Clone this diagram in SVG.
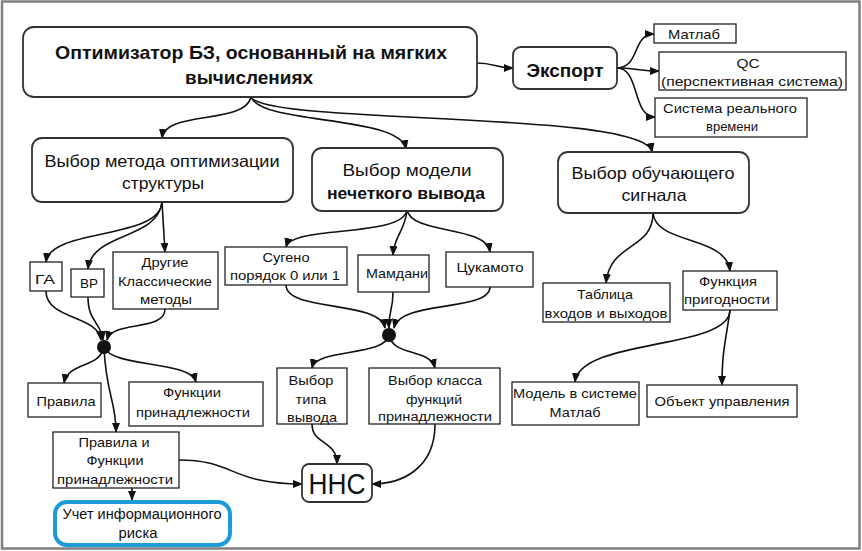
<svg xmlns="http://www.w3.org/2000/svg" width="862" height="551" viewBox="0 0 862 551">
<style>
text{font-family:"Liberation Sans",Arial,sans-serif;fill:#111;text-anchor:middle}
.t1{font-size:19px;font-weight:bold}
.t2{font-size:16.5px}
.t2b{font-size:16px;font-weight:bold}
.t3{font-size:13px}
.tr{font-size:14px}
.nn{font-size:29px}
.rb{fill:#fff;stroke:#333;stroke-width:1.8}
.sb{fill:#fff;stroke:#222;stroke-width:1.3}
.risk{fill:#fff;stroke:#1d9ad8;stroke-width:4}
.c{fill:none;stroke:#111;stroke-width:1.6;marker-end:url(#ah)}
</style>
<defs>
<marker id="ah" markerUnits="userSpaceOnUse" markerWidth="10" markerHeight="8" refX="9" refY="4" orient="auto">
<path d="M0,0 L10,4 L0,8 z" fill="#111"/>
</marker>
</defs>
<rect x="2" y="1.5" width="857.5" height="547" fill="#fff" stroke="#808080" stroke-width="2.5"/>

<g id="connectors">
<path class="c" d="M477,63 C494,63 496,68 513,68"/>
<path class="c" d="M617,68 C640,68 632,34 654,34"/>
<path class="c" d="M617,68 C635,68 640,71 659,71"/>
<path class="c" d="M617,68 C640,68 632,117 655,117"/>
<path class="c" d="M251,97 C245,125 165,110 162,138"/>
<path class="c" d="M251,97 C262,125 400,115 406,149"/>
<path class="c" d="M251,97 C265,125 645,110 652,152"/>
<path class="c" d="M162,202 C160,240 50,228 46,262"/>
<path class="c" d="M162,202 C158,240 92,232 88,269"/>
<path class="c" d="M162,202 L165,252"/>
<path class="c" d="M46,291 C46,320 98,315 101,340"/>
<path class="c" d="M88,297 C88,322 101,322 103,340"/>
<path class="c" d="M165,309 C165,332 112,320 107,340"/>
<path class="c" d="M104,347 C100,368 68,362 64,383"/>
<path class="c" d="M104,347 C112,368 190,360 196,382"/>
<path class="c" d="M104,347 C106,395 116,400 116,432"/>
<path class="c" d="M407,210 C403,238 292,225 286,247"/>
<path class="c" d="M407,210 C405,232 394,235 393,255"/>
<path class="c" d="M407,210 C412,235 486,225 490,252"/>
<path class="c" d="M286,285 C286,312 380,300 385,328"/>
<path class="c" d="M393,292 C393,312 388,312 389,328"/>
<path class="c" d="M490,287 C490,312 400,300 394,328"/>
<path class="c" d="M389,335 C385,357 316,348 312,368"/>
<path class="c" d="M389,335 C393,357 430,348 435,368"/>
<path class="c" d="M312,424 C312,445 337,440 337,464"/>
<path class="c" d="M435,424 C435,470 400,484 372,484"/>
<path class="c" d="M179,460 C235,460 230,484 302,484"/>
<path class="c" d="M132,488 L132,500"/>
<path class="c" d="M653,213 C653,250 610,242 606,283"/>
<path class="c" d="M653,213 C656,245 726,235 730,271"/>
<path class="c" d="M730,310 C730,350 580,338 575,382"/>
<path class="c" d="M730,310 C726,340 722,350 722,385"/>
<circle cx="104" cy="347" r="7" fill="#111"/>
<circle cx="389" cy="335" r="7" fill="#111"/>
</g>

<g id="main"><rect class="rb" x="23" y="27" width="454" height="70" rx="11"/>
<text class="t1" x="251" y="59" textLength="392" lengthAdjust="spacingAndGlyphs">Оптимизатор БЗ, основанный на мягких</text>
<text class="t1" x="249" y="84" textLength="128" lengthAdjust="spacingAndGlyphs">вычислениях</text></g>

<g id="export"><rect class="rb" x="513" y="47" width="104" height="42" rx="8"/>
<text class="t1" x="565" y="77" textLength="77" lengthAdjust="spacingAndGlyphs">Экспорт</text></g>

<g id="matlab1"><rect class="sb" x="654" y="24" width="82" height="19"/>
<text class="t3" x="694" y="38.5" textLength="52" lengthAdjust="spacingAndGlyphs">Матлаб</text></g>

<g id="qc"><rect class="sb" x="659" y="52" width="187" height="38"/>
<text class="t3" x="748" y="67.5" textLength="23" lengthAdjust="spacingAndGlyphs">QC</text>
<text class="t3" x="752" y="86" textLength="182" lengthAdjust="spacingAndGlyphs">(перспективная система)</text></g>

<g id="realtime"><rect class="sb" x="655" y="98" width="152" height="39"/>
<text class="t3" x="730" y="113" textLength="134" lengthAdjust="spacingAndGlyphs">Система реального</text>
<text class="t3" x="732" y="131" textLength="52" lengthAdjust="spacingAndGlyphs">времени</text></g>

<g id="method"><rect class="rb" x="32" y="138" width="261" height="64" rx="10"/>
<text class="t2" x="162" y="167" textLength="235" lengthAdjust="spacingAndGlyphs">Выбор метода оптимизации</text>
<text class="t2" x="163" y="189" textLength="82" lengthAdjust="spacingAndGlyphs">структуры</text></g>

<g id="model"><rect class="rb" x="312" y="148" width="191" height="63" rx="10"/>
<text class="t2" x="407" y="176" textLength="129" lengthAdjust="spacingAndGlyphs">Выбор модели</text>
<text class="t2b" x="406" y="199" textLength="158" lengthAdjust="spacingAndGlyphs">нечеткого вывода</text></g>

<g id="signal"><rect class="rb" x="558" y="152" width="191" height="61" rx="10"/>
<text class="t2" x="653" y="179" textLength="163" lengthAdjust="spacingAndGlyphs">Выбор обучающего</text>
<text class="t2" x="654" y="201" textLength="65" lengthAdjust="spacingAndGlyphs">сигнала</text></g>

<g id="ga"><rect class="sb" x="30" y="262" width="32" height="29"/>
<text class="t3" x="45" y="283.5" textLength="20" lengthAdjust="spacingAndGlyphs">ГА</text></g>

<g id="vr"><rect class="sb" x="71" y="269" width="33" height="28"/>
<text class="t3" x="89" y="288" textLength="18" lengthAdjust="spacingAndGlyphs">ВР</text></g>

<g id="other"><rect class="sb" x="113" y="252" width="105" height="57"/>
<text class="t3" x="165" y="266.5" textLength="47" lengthAdjust="spacingAndGlyphs">Другие</text>
<text class="t3" x="165" y="285.5" textLength="94" lengthAdjust="spacingAndGlyphs">Классические</text>
<text class="t3" x="166" y="303.5" textLength="52" lengthAdjust="spacingAndGlyphs">методы</text></g>

<g id="sugeno"><rect class="sb" x="225" y="247" width="122" height="38"/>
<text class="t3" x="286" y="261.5" textLength="47" lengthAdjust="spacingAndGlyphs">Сугено</text>
<text class="t3" x="285" y="279.5" textLength="110" lengthAdjust="spacingAndGlyphs">порядок 0 или 1</text></g>

<g id="mamdani"><rect class="sb" x="358" y="255" width="71" height="37"/>
<text class="t3" x="397" y="277.5" textLength="62" lengthAdjust="spacingAndGlyphs">Мамдани</text></g>

<g id="tsukamoto"><rect class="sb" x="446" y="252" width="87" height="35"/>
<text class="t3" x="490" y="271.5" textLength="67" lengthAdjust="spacingAndGlyphs">Цукамото</text></g>

<g id="outtype"><rect class="sb" x="277" y="368" width="70" height="56"/>
<text class="t3" x="311" y="384.5" textLength="45" lengthAdjust="spacingAndGlyphs">Выбор</text>
<text class="t3" x="311" y="403.5" textLength="31" lengthAdjust="spacingAndGlyphs">типа</text>
<text class="t3" x="312" y="421.5" textLength="50" lengthAdjust="spacingAndGlyphs">вывода</text></g>

<g id="mfclass"><rect class="sb" x="369" y="368" width="131" height="56"/>
<text class="t3" x="435" y="384.5" textLength="94" lengthAdjust="spacingAndGlyphs">Выбор класса</text>
<text class="t3" x="434" y="403.5" textLength="56" lengthAdjust="spacingAndGlyphs">функций</text>
<text class="t3" x="435" y="420.5" textLength="114" lengthAdjust="spacingAndGlyphs">принадлежности</text></g>

<g id="table"><rect class="sb" x="543" y="283" width="127" height="39"/>
<text class="t3" x="605" y="298.5" textLength="56" lengthAdjust="spacingAndGlyphs">Таблица</text>
<text class="t3" x="606" y="317.5" textLength="123" lengthAdjust="spacingAndGlyphs">входов и выходов</text></g>

<g id="fitness"><rect class="sb" x="683" y="271" width="94" height="39"/>
<text class="t3" x="728" y="285.5" textLength="58" lengthAdjust="spacingAndGlyphs">Функция</text>
<text class="t3" x="727" y="303.5" textLength="86" lengthAdjust="spacingAndGlyphs">пригодности</text></g>

<g id="matlabmodel"><rect class="sb" x="512" y="382" width="127" height="43"/>
<text class="t3" x="575" y="397.5" textLength="124" lengthAdjust="spacingAndGlyphs">Модель в системе</text>
<text class="t3" x="575" y="416.5" textLength="51" lengthAdjust="spacingAndGlyphs">Матлаб</text></g>

<g id="object"><rect class="sb" x="647" y="385" width="150" height="32"/>
<text class="t3" x="722" y="405.5" textLength="135" lengthAdjust="spacingAndGlyphs">Объект управления</text></g>

<g id="rules"><rect class="sb" x="28" y="383" width="73" height="34"/>
<text class="t3" x="66" y="405.5" textLength="59" lengthAdjust="spacingAndGlyphs">Правила</text></g>

<g id="mf"><rect class="sb" x="129" y="382" width="134" height="44"/>
<text class="t3" x="192" y="396.5" textLength="58" lengthAdjust="spacingAndGlyphs">Функции</text>
<text class="t3" x="193" y="416.5" textLength="114" lengthAdjust="spacingAndGlyphs">принадлежности</text></g>

<g id="rulesmf"><rect class="sb" x="53" y="432" width="126" height="56"/>
<text class="t3" x="114" y="446.5" textLength="71" lengthAdjust="spacingAndGlyphs">Правила и</text>
<text class="t3" x="115" y="464.5" textLength="57" lengthAdjust="spacingAndGlyphs">Функции</text>
<text class="t3" x="115" y="483.5" textLength="116" lengthAdjust="spacingAndGlyphs">принадлежности</text></g>

<g id="risk"><rect class="risk" x="55" y="502" width="175" height="43" rx="12"/>
<text class="tr" x="142" y="519" textLength="159" lengthAdjust="spacingAndGlyphs">Учет информационного</text>
<text class="tr" x="138" y="538" textLength="39" lengthAdjust="spacingAndGlyphs">риска</text></g>

<g id="nns"><rect class="rb" x="302" y="464" width="70" height="38" rx="7"/>
<text class="nn" x="337" y="494" textLength="57" lengthAdjust="spacingAndGlyphs">ННС</text></g>
</svg>
